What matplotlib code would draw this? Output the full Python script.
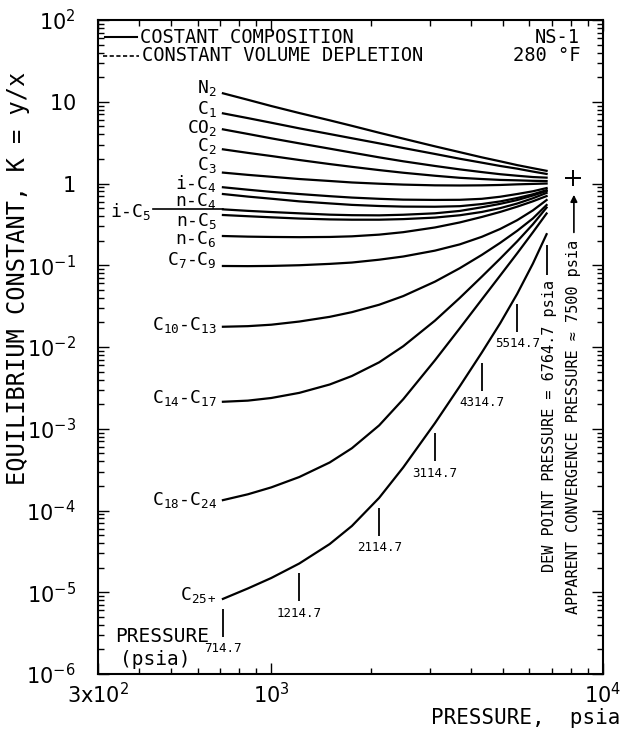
import numpy as np
import matplotlib
matplotlib.use("Agg")
import matplotlib.pyplot as plt
from matplotlib.ticker import FixedLocator, FixedFormatter, NullFormatter
from matplotlib.transforms import ScaledTranslation

# fonts: typewriter look for texts, plain sans for tick numbers
plt.rcParams['font.family'] = ['DejaVu Sans Mono', 'DejaVu Sans']
plt.rcParams['mathtext.fontset'] = 'custom'
plt.rcParams['mathtext.rm'] = 'DejaVu Sans Mono'
plt.rcParams['mathtext.it'] = 'DejaVu Sans Mono'
plt.rcParams['mathtext.sf'] = 'DejaVu Sans'

# ---- data (pressure psia, K = y/x) ----
pressure = [714.7, 850, 1000, 1214.7, 1500, 1750, 2114.7, 2500, 3114.7,
            3700, 4314.7, 4900, 5514.7, 6150, 6764.7]

labels = ['N$_2$', 'C$_1$', 'CO$_2$', 'C$_2$', 'C$_3$', 'i-C$_4$', 'n-C$_4$',
          'i-C$_5$', 'n-C$_5$', 'n-C$_6$', 'C$_7$-C$_9$', 'C$_{10}$-C$_{13}$',
          'C$_{14}$-C$_{17}$', 'C$_{18}$-C$_{24}$', 'C$_{25+}$']

K_N2 = [12.7, 10.57, 8.87, 7.28, 5.93, 5.08, 4.18, 3.54, 2.85, 2.42, 2.09, 1.87, 1.68, 1.54, 1.43]
K_C1 = [7.22, 6.31, 5.54, 4.73, 4.03, 3.58, 3.10, 2.72, 2.30, 2.01, 1.80, 1.64, 1.52, 1.40, 1.31]
K_CO2 = [4.60, 4.04, 3.57, 3.10, 2.67, 2.39, 2.09, 1.87, 1.64, 1.49, 1.38, 1.30, 1.245, 1.20, 1.18]
K_C2 = [2.62, 2.37, 2.17, 1.94, 1.73, 1.60, 1.46, 1.355, 1.245, 1.175, 1.135, 1.107, 1.094, 1.079, 1.072]
K_C3 = [1.36, 1.276, 1.21, 1.135, 1.074, 1.03, 0.995, 0.97, 0.95, 0.946, 0.95, 0.96, 0.977, 0.989, 1.00]
K_iC4 = [0.90, 0.84, 0.79, 0.744, 0.70, 0.673, 0.65, 0.635, 0.63, 0.632, 0.65, 0.689, 0.744, 0.804, 0.88]
K_nC4 = [0.744, 0.692, 0.652, 0.605, 0.571, 0.548, 0.531, 0.522, 0.52, 0.528, 0.561, 0.604, 0.665, 0.738, 0.83]
K_iC5 = [0.483, 0.463, 0.448, 0.432, 0.416, 0.41, 0.408, 0.415, 0.432, 0.462, 0.512, 0.564, 0.628, 0.713, 0.81]
K_nC5 = [0.412, 0.398, 0.386, 0.373, 0.364, 0.361, 0.361, 0.367, 0.383, 0.409, 0.449, 0.500, 0.569, 0.660, 0.768]
K_nC6 = [0.228, 0.224, 0.222, 0.2207, 0.222, 0.226, 0.237, 0.254, 0.290, 0.334, 0.390, 0.449, 0.521, 0.606, 0.702]
K_C7_9 = [0.098, 0.0976, 0.0982, 0.1001, 0.104, 0.108, 0.117, 0.128, 0.151, 0.180, 0.223, 0.278, 0.356, 0.469, 0.628]
K_C10_13 = [0.0177, 0.0180, 0.01875, 0.0205, 0.0234, 0.0267, 0.0329, 0.0420, 0.0630, 0.0920,
            0.134, 0.188, 0.264, 0.374, 0.546]
K_C14_17 = [2.14e-3, 2.21e-3, 2.38e-3, 2.75e-3, 3.48e-3, 4.42e-3, 6.50e-3, 0.01023, 0.0210, 0.0398,
            0.0726, 0.1205, 0.196, 0.317, 0.508]
K_C18_24 = [1.34e-4, 1.58e-4, 1.92e-4, 2.57e-4, 3.87e-4, 5.78e-4, 1.10e-3, 2.30e-3, 6.87e-3, 0.0169,
            0.0382, 0.0748, 0.140, 0.253, 0.430]
K_C25 = [8.30e-6, 1.114e-5, 1.496e-5, 2.25e-5, 3.89e-5, 6.47e-5, 1.429e-4, 3.37e-4, 1.17e-3, 3.30e-3,
         8.57e-3, 0.0195, 0.0447, 0.1047, 0.240]

all_K = [K_N2, K_C1, K_CO2, K_C2, K_C3, K_iC4, K_nC4, K_iC5, K_nC5, K_nC6,
         K_C7_9, K_C10_13, K_C14_17, K_C18_24, K_C25]

# pressure stages marked on the C25+ curve
stage_idx = [0, 3, 6, 8, 10, 12]
dew_point = 6764.7
conv_point = (8150, 1.17)

# label offsets (pixels) left of each curve start
label_dy = [5, 4, 1, 3, 8, 4, -7, 0, -6, -3, 6, 2, 4, 0, 4]

fig = plt.figure(figsize=(6.4, 7.36), dpi=100)
ax = fig.add_axes([0.153, 0.0842, 0.789, 0.8886])

for K in all_K:
    ax.plot(pressure, K, color='black', lw=1.6, solid_joinstyle='round')

ax.set_xscale('log')
ax.set_yscale('log')
ax.set_xlim(300, 1e4)
ax.set_ylim(1e-6, 1e2)

# ticks
ax.xaxis.set_major_locator(FixedLocator([300, 1000, 10000]))
ax.xaxis.set_major_formatter(FixedFormatter([r'$\mathsf{3x10^{2}}$', r'$\mathsf{10^{3}}$', r'$\mathsf{10^{4}}$']))
ax.xaxis.set_minor_locator(FixedLocator([400, 500, 600, 700, 800, 900] + [2000, 3000, 4000, 5000, 6000, 7000, 8000, 9000]))
ax.xaxis.set_minor_formatter(NullFormatter())

ydec = [10.0 ** e for e in range(-6, 3)]
ylab = [r'$\mathsf{10^{-6}}$', r'$\mathsf{10^{-5}}$', r'$\mathsf{10^{-4}}$', r'$\mathsf{10^{-3}}$',
        r'$\mathsf{10^{-2}}$', r'$\mathsf{10^{-1}}$', r'$\mathsf{1}$', r'$\mathsf{10}$', r'$\mathsf{10^{2}}$']
ax.yaxis.set_major_locator(FixedLocator(ydec))
ax.yaxis.set_major_formatter(FixedFormatter(ylab))
ax.yaxis.set_minor_locator(FixedLocator([m * d for d in ydec[:-1] for m in range(2, 10)]))
ax.yaxis.set_minor_formatter(NullFormatter())

ax.tick_params(which='both', direction='in', top=True, right=True, width=1)
ax.tick_params(which='major', length=8, labelsize=15)
ax.tick_params(which='minor', length=4)
ax.tick_params(axis='y', which='major', pad=16)
ax.tick_params(axis='x', which='major', pad=6)
for s in ax.spines.values():
    s.set_linewidth(1.5)

# component labels at the start of each curve (i-C5 goes further left with a leader)
for n, (lab, K, dy) in enumerate(zip(labels, all_K, label_dy)):
    if n == 7:
        continue
    ax.annotate(lab, xy=(pressure[0], K[0]), xytext=(-6, dy), textcoords='offset pixels',
                ha='right', va='center', fontsize=13)
ax.plot([440, pressure[0]], [K_iC5[0], K_iC5[0]], color='black', lw=1.2)
ax.annotate(labels[7], xy=(440, K_iC5[0]), xytext=(-2, -2), textcoords='offset pixels',
            ha='right', va='center', fontsize=13)

# pressure stage markers under the C25+ curve
tick_tr = ax.transData + ScaledTranslation(0, -0.24, fig.dpi_scale_trans)
for i in stage_idx:
    P, K = pressure[i], K_C25[i]
    ax.plot(P, K, marker='|', ms=20, mew=1.3, color='black', transform=tick_tr)
    ax.annotate('%.1f' % P, xy=(P, K), xytext=(0, -50), textcoords='offset pixels',
                ha='center', va='center', fontsize=9)
ax.annotate('PRESSURE', xy=(pressure[0], K_C25[0]), xytext=(-14, -38), textcoords='offset pixels',
            ha='right', va='center', fontsize=14)
ax.annotate('(psia)', xy=(pressure[0], K_C25[0]), xytext=(-68, -61), textcoords='offset pixels',
            ha='center', va='center', fontsize=14)

# dew point marker and notes
dew_tr = ax.transData + ScaledTranslation(0, -0.255, fig.dpi_scale_trans)
ax.plot(dew_point, K_C25[-1], marker='|', ms=21, mew=1.3, color='black', transform=dew_tr)
ax.annotate('DEW POINT PRESSURE = 6764.7 psia', xy=(dew_point, K_C25[-1]), xytext=(3, -46),
            textcoords='offset pixels', rotation=90, ha='center', va='top', fontsize=11)
ax.plot(*conv_point, marker='+', ms=11, mew=1.4, color='black')
ax.annotate('APPARENT CONVERGENCE PRESSURE \u2248 7500 psia', xy=conv_point, xytext=(0, -62),
            textcoords='offset pixels', rotation=90, ha='center', va='top', fontsize=11)
ax.annotate('', xy=(0.9426, 0.737), xytext=(0.9426, 0.671), xycoords='axes fraction',
            arrowprops=dict(arrowstyle='-|>', color='black', lw=1.2, mutation_scale=10))

# legend and case info
ax.plot([0.014, 0.077], [0.974, 0.974], color='black', lw=1.5, transform=ax.transAxes)
ax.plot([0.010, 0.082], [0.945, 0.945], color='black', lw=1.2, ls=(0, (2.5, 1.5)), transform=ax.transAxes)
ax.text(0.083, 0.974, 'COSTANT COMPOSITION', transform=ax.transAxes, ha='left', va='center', fontsize=13.5)
ax.text(0.088, 0.945, 'CONSTANT VOLUME DEPLETION', transform=ax.transAxes, ha='left', va='center', fontsize=13.5)
ax.text(0.955, 0.974, 'NS-1', transform=ax.transAxes, ha='right', va='center', fontsize=13.5)
ax.text(0.955, 0.945, '280 \u00b0F', transform=ax.transAxes, ha='right', va='center', fontsize=13.5)

fig.text(0.028, 0.622, 'EQUILIBRIUM CONSTANT, K = y/x', rotation=90, ha='center', va='center', fontsize=17)
fig.text(0.969, 0.0245, 'PRESSURE,  psia', ha='right', va='center', fontsize=15)

fig.savefig('out.png', dpi=100)
